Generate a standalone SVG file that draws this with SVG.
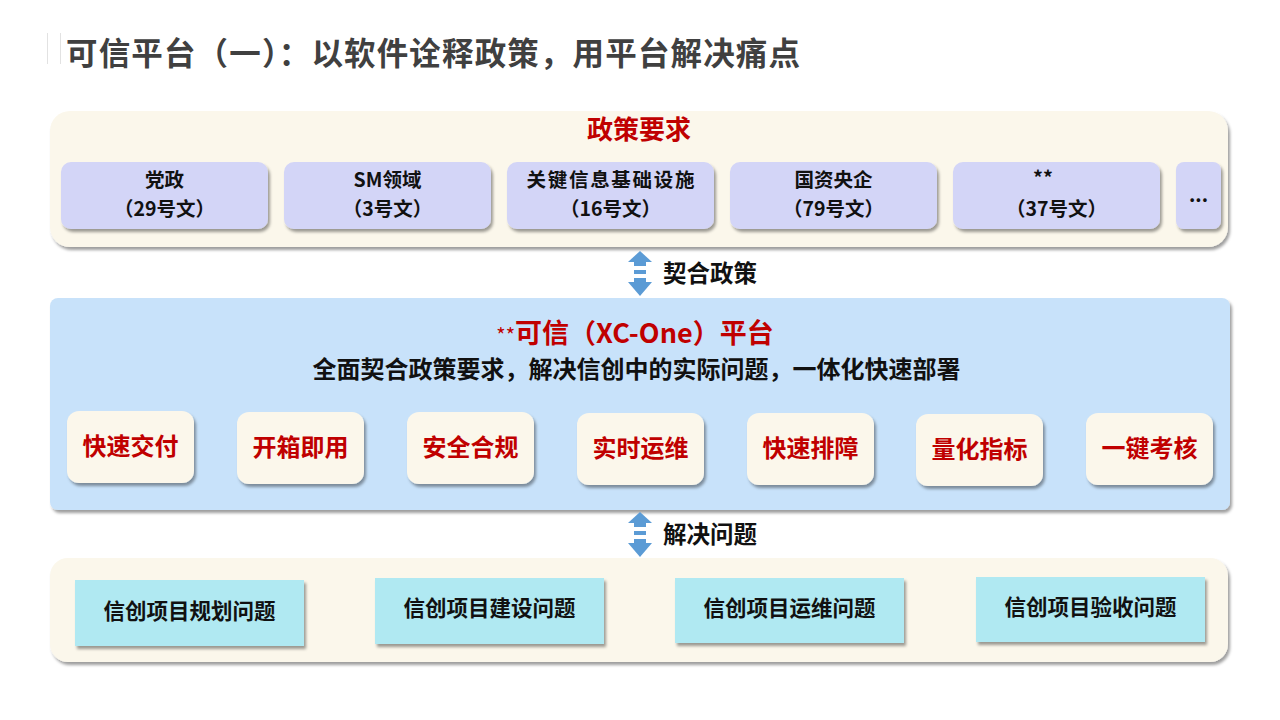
<svg xmlns="http://www.w3.org/2000/svg" width="1280" height="720" viewBox="0 0 1280 720">
<defs>
<filter id="sh" x="-10%" y="-10%" width="130%" height="140%">
<feDropShadow dx="2" dy="3" stdDeviation="1.6" flood-color="#000" flood-opacity="0.38"/>
</filter>
<style>
text{font-family:"Microsoft YaHei","Noto Sans CJK SC","Liberation Sans",sans-serif;font-weight:bold}
.panel{fill:#FBF7EB;filter:url(#sh)}
.blue{fill:#C8E2FA;filter:url(#sh)}
.pol{fill:#D3D5F7;filter:url(#sh)}
.feat{fill:#FBF7EB;filter:url(#sh)}
.prob{fill:#B0E9F2;filter:url(#sh)}
.pt{font-size:19.5px;fill:#111;text-anchor:middle}
.ft{font-size:24px;fill:#C00000;text-anchor:middle}
.bt{font-size:21.5px;fill:#111;text-anchor:middle}
.lbl{font-size:23.5px;fill:#111}
.arr{fill:#5B9BD5}
</style>
</defs>
<rect width="1280" height="720" fill="#fff"/>
<g id="title">
<line x1="47.5" y1="33" x2="47.5" y2="64" stroke="#e2e2e2" stroke-width="1"/>
<line x1="60.5" y1="33" x2="60.5" y2="64" stroke="#e2e2e2" stroke-width="1"/>
<text x="66" y="65" font-size="31.5" fill="#404040" textLength="734" lengthAdjust="spacing">可信平台（一）：以软件诠释政策，用平台解决痛点</text>
</g>
<g id="policy-panel">
<rect class="panel" x="50" y="111" width="1178" height="136" rx="20"/>
<text x="639" y="139" font-size="26" fill="#C00000" text-anchor="middle">政策要求</text>
</g>
<g id="pol1"><rect class="pol" x="61" y="162" width="207" height="67" rx="10"/><text class="pt" x="164.5" y="187">党政</text><text class="pt" x="164.5" y="215.5">（29号文）</text></g>
<g id="pol2"><rect class="pol" x="284" y="162" width="207" height="67" rx="10"/><text class="pt" x="387.5" y="187">SM领域</text><text class="pt" x="387.5" y="215.5">（3号文）</text></g>
<g id="pol3"><rect class="pol" x="507" y="162" width="207" height="67" rx="10"/><text class="pt" x="610.5" y="187" textLength="168" lengthAdjust="spacing">关键信息基础设施</text><text class="pt" x="610.5" y="215.5">（16号文）</text></g>
<g id="pol4"><rect class="pol" x="730" y="162" width="207" height="67" rx="10"/><text class="pt" x="833.5" y="187">国资央企</text><text class="pt" x="833.5" y="215.5">（79号文）</text></g>
<g id="pol5"><rect class="pol" x="953" y="162" width="207" height="67" rx="10"/><text class="pt" x="1043" y="185" font-size="15">**</text><text class="pt" x="1056.5" y="215.5">（37号文）</text></g>
<g id="pol6"><rect class="pol" x="1176" y="162" width="45" height="67" rx="8"/><text class="pt" x="1198.5" y="202" font-size="15">...</text></g>
<g id="platform-panel">
<rect class="blue" x="50" y="298" width="1180" height="212" rx="8"/>
<text x="635" y="343" font-size="27" fill="#C00000" text-anchor="middle"><tspan font-size="20" font-weight="normal">**</tspan>可信（XC-One）平台</text>
<text x="636.5" y="378" font-size="24" fill="#111" text-anchor="middle">全面契合政策要求，解决信创中的实际问题，一体化快速部署</text>
</g>
<g id="f1"><rect class="feat" x="67" y="411" width="127" height="72" rx="12"/><text class="ft" x="130.5" y="455">快速交付</text></g>
<g id="f2"><rect class="feat" x="237" y="412" width="127" height="72" rx="12"/><text class="ft" x="300.5" y="456">开箱即用</text></g>
<g id="f3"><rect class="feat" x="407" y="412" width="127" height="72" rx="12"/><text class="ft" x="470.5" y="456">安全合规</text></g>
<g id="f4"><rect class="feat" x="577" y="413" width="127" height="72" rx="12"/><text class="ft" x="640.5" y="457">实时运维</text></g>
<g id="f5"><rect class="feat" x="747" y="413" width="127" height="72" rx="12"/><text class="ft" x="810.5" y="457">快速排障</text></g>
<g id="f6"><rect class="feat" x="916" y="414" width="127" height="72" rx="12"/><text class="ft" x="979.5" y="458">量化指标</text></g>
<g id="f7"><rect class="feat" x="1086" y="413" width="127" height="72" rx="12"/><text class="ft" x="1149.5" y="457">一键考核</text></g>
<g id="problem-panel">
<rect class="panel" x="50" y="558" width="1178" height="104" rx="18"/>
</g>
<g id="p1"><rect class="prob" x="75" y="580" width="229" height="66"/><text class="bt" x="189.5" y="619">信创项目规划问题</text></g>
<g id="p2"><rect class="prob" x="375" y="578" width="229" height="66"/><text class="bt" x="489.5" y="616">信创项目建设问题</text></g>
<g id="p3"><rect class="prob" x="675" y="578" width="229" height="65"/><text class="bt" x="789.5" y="616">信创项目运维问题</text></g>
<g id="p4"><rect class="prob" x="976" y="577" width="229" height="65"/><text class="bt" x="1090.5" y="615">信创项目验收问题</text></g>
<g id="connectors">
<g id="arrow1">
<polygon class="arr" points="640,251 652,262 628,262"/>
<rect class="arr" x="634" y="262" width="12" height="4"/>
<rect class="arr" x="634" y="270" width="12" height="4"/>
<rect class="arr" x="634" y="278" width="12" height="4"/>
<polygon class="arr" points="628,282 652,282 640,296"/>
<text class="lbl" x="663" y="282">契合政策</text>
</g>
<g id="arrow2">
<polygon class="arr" points="640,512 652,523 628,523"/>
<rect class="arr" x="634" y="523" width="12" height="4"/>
<rect class="arr" x="634" y="531" width="12" height="4"/>
<rect class="arr" x="634" y="539" width="12" height="4"/>
<polygon class="arr" points="628,543 652,543 640,557"/>
<text class="lbl" x="663" y="543">解决问题</text>
</g>
</g>
</svg>
